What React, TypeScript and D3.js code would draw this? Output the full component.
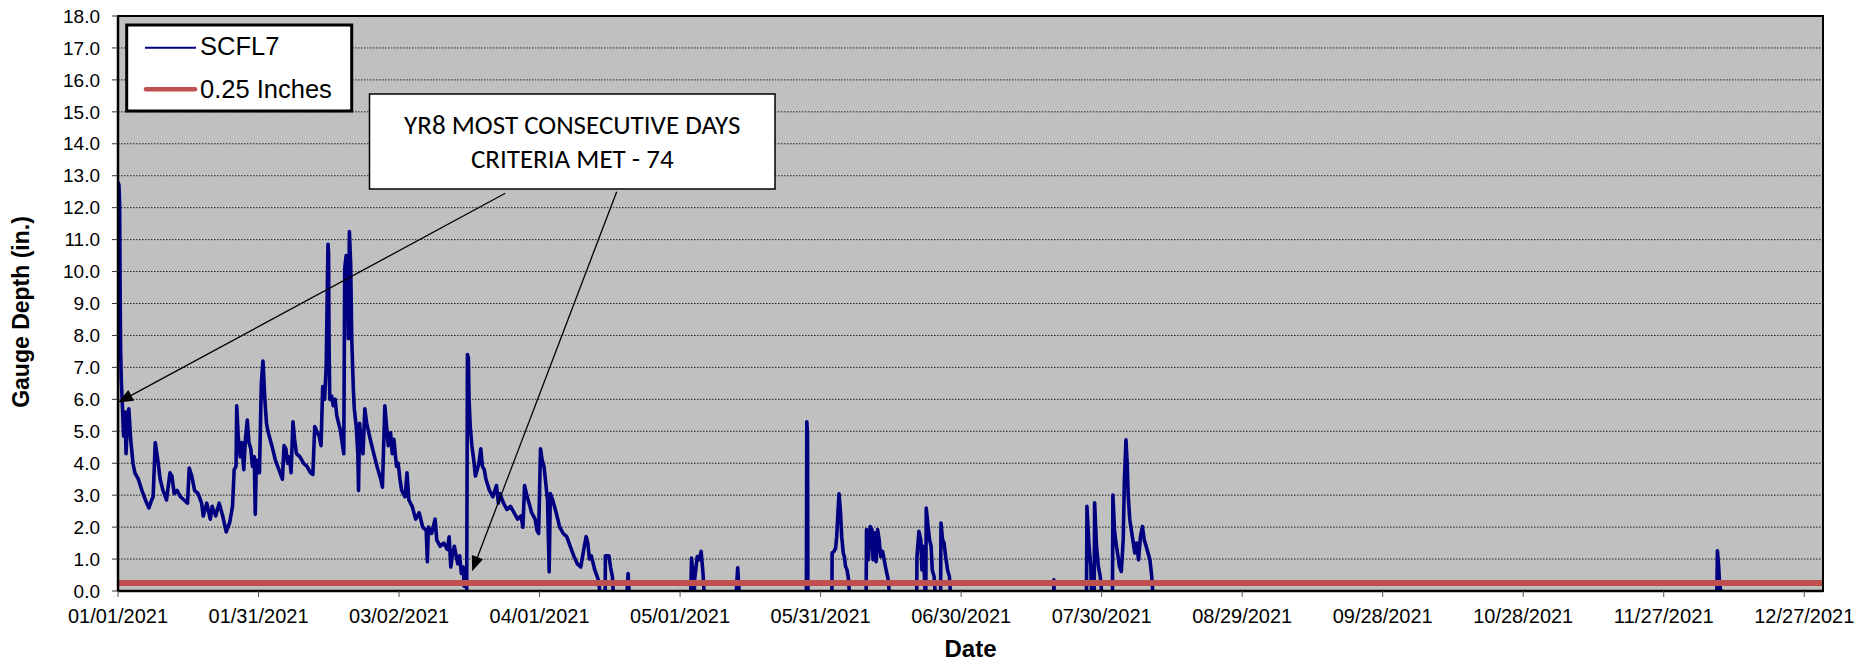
import React from "react";
import * as d3 from "d3";

// ---------------- data ----------------
const xTickLabels = [
  "01/01/2021", "01/31/2021", "03/02/2021", "04/01/2021", "05/01/2021",
  "05/31/2021", "06/30/2021", "07/30/2021", "08/29/2021", "09/28/2021",
  "10/28/2021", "11/27/2021", "12/27/2021",
];
const xDomainLabels = ["01/01/2021", "12/31/2021"];
const yTickValues = [0, 1, 2, 3, 4, 5, 6, 7, 8, 9, 10, 11, 12, 13, 14, 15, 16, 17, 18];
const seriesNames = ["SCFL7", "0.25 Inches"];
const thresholdInches = 0.25;
const calloutLines = ["YR8 MOST CONSECUTIVE DAYS", "CRITERIA MET - 74"];
// arrow targets: [days since 01/01/2021, depth]
const calloutTargets: [number, number][] = [[0, 5.9], [75.6, 0.62]];

// gauge readings: [days since 01/01/2021, depth (in.)]; values below 0 = gauge dry (below axis)
const janReadings: [number, number][] = [
  [0, 12.8], [0.2, 12.7], [0.35, 12.1], [0.45, 9.5], [0.55, 7.6], [0.7, 6.6], [0.97, 5.7], [1.2, 4.85],
  [1.5, 5.6], [1.72, 4.3], [2.1, 5.6], [2.32, 5.7], [2.7, 4.75], [3.2, 4.0], [3.6, 3.7], [4.35, 3.5],
  [5.1, 3.15], [5.85, 2.85], [6.6, 2.6], [7.2, 2.85], [7.5, 2.95], [7.95, 4.65], [8.5, 4.1], [9.0, 3.5],
  [9.6, 3.15], [10.35, 2.85], [11.1, 3.7], [11.5, 3.6], [12.0, 3.05], [12.6, 3.15], [13.35, 2.95],
  [14.1, 2.85], [14.85, 2.75], [15.2, 3.85], [15.75, 3.6], [16.35, 3.15], [17.1, 3.05], [17.85, 2.75],
  [18.2, 2.35], [18.95, 2.75], [19.7, 2.25], [20.1, 2.65], [20.85, 2.35], [21.6, 2.75], [22.35, 2.35],
  [23.1, 1.85], [23.85, 2.15], [24.45, 2.65], [24.8, 3.8], [25.2, 3.9], [25.35, 5.8], [25.7, 4.75],
  [26.1, 4.2], [26.45, 4.65], [26.85, 3.8], [27.2, 4.75], [27.6, 5.35], [27.95, 4.65], [28.35, 4.45],
  [28.7, 3.9], [29.1, 4.2], [29.3, 2.4], [29.55, 4.1], [29.85, 3.7], [30.2, 3.7], [30.6, 6.5],
];
const febReadings: [number, number][] = [
  [30.95, 7.2], [31.35, 6.0], [31.7, 5.25], [32.1, 4.95], [32.85, 4.55], [33.6, 4.1], [34.35, 3.8],
  [35.1, 3.5], [35.45, 4.55], [35.85, 4.45], [36.2, 4.0], [36.6, 4.2], [36.95, 3.7], [37.35, 5.3],
  [37.7, 4.75], [38.1, 4.3], [38.85, 4.2], [39.6, 4.0], [40.35, 3.9], [41.1, 3.7], [41.6, 3.65],
  [42.0, 5.15], [42.6, 4.95], [42.95, 4.85], [43.35, 4.55], [43.7, 6.4], [44.1, 6.0], [44.45, 7.05],
  [44.7, 9.6], [44.83, 10.85], [44.95, 10.6], [45.05, 8.0], [45.2, 6.0], [45.6, 6.1], [45.95, 5.8],
  [46.35, 6.0], [46.7, 5.5], [47.1, 5.25], [47.45, 5.05], [47.85, 4.65], [48.2, 4.3], [48.4, 10.1],
  [48.7, 10.5], [48.97, 10.0], [49.18, 7.9], [49.4, 11.25], [49.68, 10.2], [49.9, 7.9], [50.25, 6.3],
  [50.45, 5.7], [50.85, 5.15], [51.2, 4.3], [51.35, 3.15], [51.57, 5.25], [51.95, 4.65], [52.3, 4.3],
  [52.7, 5.7], [53.1, 5.25], [53.85, 4.75], [54.6, 4.3], [55.3, 3.9], [56.1, 3.5], [56.45, 3.25],
  [56.97, 5.8], [57.4, 5.05], [57.7, 4.55], [58.2, 4.95], [58.55, 4.3], [58.9, 4.75],
];
const marReadings: [number, number][] = [
  [59.45, 3.9], [59.8, 4.0], [60.2, 3.5], [60.55, 3.15], [61.3, 2.95], [61.7, 3.7], [62.1, 2.85],
  [62.8, 2.65], [63.55, 2.25], [64.3, 2.45], [65.05, 2.0], [65.8, 1.9], [66.04, 0.92], [66.27, 2.0],
  [66.95, 1.8], [67.7, 2.25], [68.05, 1.6], [68.8, 1.4], [69.55, 1.5], [70.3, 1.3], [70.7, 1.7],
  [71.05, 0.75], [71.45, 1.2], [71.8, 1.4], [72.55, 0.85], [72.95, 1.1], [73.3, 0.55], [73.7, 0.75],
  [73.9, 0.15], [74.2, 0.35], [74.45, 0.05], [74.6, 7.4], [74.8, 7.3], [74.95, 6.0], [75.2, 5.15],
  [75.55, 4.55], [75.95, 4.1], [76.3, 3.6], [76.7, 3.8], [77.05, 4.0], [77.45, 4.45], [77.8, 3.9],
  [78.2, 3.8], [78.55, 3.5], [79.3, 3.15], [80.05, 2.95], [80.8, 3.3], [81.2, 2.75], [81.55, 3.05],
  [82.3, 2.75], [83.05, 2.55], [83.8, 2.65], [84.55, 2.45], [85.3, 2.25], [86.05, 2.35], [86.45, 2.0],
  [86.8, 3.3], [87.2, 3.05], [87.55, 2.85], [87.95, 2.65], [88.3, 2.45], [89.05, 2.25], [89.45, 1.9],
  [89.8, 1.8],
];
const aprReadings: [number, number][] = [
  [90.2, 4.45], [90.55, 4.1], [90.95, 3.9], [91.3, 3.4], [91.7, 2.85], [92.05, 0.6], [92.3, 3.05],
  [92.8, 2.85], [93.55, 2.45], [94.3, 2.0], [95.05, 1.8], [95.8, 1.7], [96.55, 1.4], [97.3, 1.1],
  [98.05, 0.85], [98.8, 0.75], [99.55, 1.4], [99.95, 1.7], [100.3, 1.5], [100.65, 1.0], [101.05, 1.1],
  [101.8, 0.65], [102.55, 0.35], [103.3, -0.5], [104.0, -0.5], [104.05, 1.1], [104.4, 1.1], [104.8, 1.1],
  [105.15, 0.75], [105.55, 0.45], [105.9, -0.5], [108.5, -0.5], [108.9, 0.55], [109.3, -0.5],
];
const mayJunReadings: [number, number][] = [
  [122.2, -0.5], [122.45, 1.03], [122.85, 0.4], [123.0, -0.5], [123.1, 0.35], [123.67, 1.08],
  [124.08, 0.98], [124.49, 1.24], [124.89, 0.56], [125.3, -0.5],
  [131.8, -0.5], [132.3, 0.73], [132.8, -0.5],
  [146.95, -0.5], [147.05, 5.3], [147.2, 4.9], [147.3, -0.5],
  [152.4, -0.5], [152.46, 1.19], [152.87, 1.24], [153.2, 1.34], [153.44, 1.71], [153.69, 2.44],
  [153.93, 3.04], [154.26, 2.44], [154.5, 1.71], [154.83, 1.19], [155.07, 1.08], [155.32, 0.77],
  [155.64, 0.66], [155.97, 0.35], [156.3, -0.5],
  [159.7, -0.5], [159.8, 1.92], [160.2, 0.98], [160.6, 2.02], [160.95, 1.92], [161.2, 0.98],
  [161.5, 1.82], [161.84, 0.92], [162.17, 1.92], [162.5, 1.6], [162.82, 1.08], [163.23, 1.24],
  [163.64, 0.92], [164.05, 0.61], [164.45, 0.35], [164.86, -0.5],
  [170.5, -0.5], [170.57, 1.08], [170.98, 1.87], [171.39, 1.6], [171.63, 0.66], [171.88, 1.4],
  [172.2, 0.35], [172.45, -0.5], [172.55, 2.6], [172.94, 2.02], [173.26, 1.6], [173.59, 1.4],
  [173.83, 0.66], [174.24, 0.45], [174.65, -0.5], [175.6, -0.5], [175.7, 2.13], [176.04, 1.6],
  [176.36, 1.5], [176.69, 1.08], [177.1, 0.66], [177.5, 0.45], [177.9, -0.5],
];
const julAugReadings: [number, number][] = [
  [199.7, -0.5], [199.8, 0.35], [199.9, -0.5],
  [206.75, -0.5], [206.86, 2.65], [207.27, 1.5], [207.68, 0.77], [207.93, -0.5], [208.4, -0.5],
  [208.5, 2.76], [208.9, 1.4], [209.3, 0.77], [209.7, 0.45], [210.3, -0.5],
  [212.3, -0.5], [212.4, 3.0], [212.74, 1.92], [213.06, 1.5], [213.39, 1.19], [213.8, 0.77],
  [214.2, 0.61], [214.6, 1.6], [214.86, 3.5], [215.19, 4.73], [215.44, 4.02], [215.68, 2.97],
  [216.0, 2.24], [216.33, 1.92], [216.66, 1.6], [217.07, 1.19], [217.47, 1.5], [217.88, 0.98],
  [218.29, 1.71], [218.7, 2.02], [219.1, 1.6], [219.5, 1.4], [219.9, 1.19], [220.3, 0.98],
  [220.7, 0.45], [221.1, -0.5],
];
const decReadings: [number, number][] = [
  [341.3, -0.5], [341.45, 1.26], [341.73, 0.77], [341.87, 0.35], [342.1, 0.05], [342.6, -0.1],
  [343.4, -0.05], [343.6, -0.5], [364, -0.5],
];

// ---------------- layout ----------------
const W = 1872;
const H = 663;
const plot = { left: 118, right: 1823, top: 16, bottom: 591 };
const axisFont = "'Liberation Sans', Arial, Helvetica, sans-serif";
const calloutFont = "Carlito, Calibri, Lato, 'Open Sans', sans-serif";
const navy = "#000080";
const red = "#C0504D";

const parse = d3.utcParse("%m/%d/%Y");
const dayMs = 864e5;

export default function App() {
  const start = parse(xDomainLabels[0]) as Date;
  const end = parse(xDomainLabels[1]) as Date;
  const x = d3.scaleUtc().domain([start, end]).range([plot.left, plot.right]);
  const y = d3.scaleLinear().domain([0, 18]).range([plot.bottom, plot.top]);
  const toDate = (d: number) => new Date(start.getTime() + d * dayMs);

  const readings = [
    ...janReadings, ...febReadings, ...marReadings, ...aprReadings,
    ...mayJunReadings, ...julAugReadings, ...decReadings,
  ];
  const line = d3
    .line<[number, number]>()
    .x((d) => x(toDate(d[0])))
    .y((d) => y(d[1]));

  const xTicks = xTickLabels.map((l) => ({ label: l, px: x(parse(l) as Date) }));

  // callout box
  const box = { x: 369.5, y: 94, w: 405.5, h: 95 };
  const cx = box.x + box.w / 2;
  const arrowStarts = [
    [505.3, 193.3],
    [616.7, 191.7],
  ];
  const arrows = calloutTargets.map((t, i) => {
    const tx = x(toDate(t[0]));
    const ty = y(t[1]);
    const [sx, sy] = arrowStarts[i];
    const ang = Math.atan2(ty - sy, tx - sx);
    const L = 15;
    const hw = 6;
    const bx = tx - L * Math.cos(ang);
    const by = ty - L * Math.sin(ang);
    const p1 = [bx + hw * Math.sin(ang), by - hw * Math.cos(ang)];
    const p2 = [bx - hw * Math.sin(ang), by + hw * Math.cos(ang)];
    return { sx, sy, bx, by, tx, ty, head: `${tx},${ty} ${p1[0]},${p1[1]} ${p2[0]},${p2[1]}` };
  });

  return (
    <div style={{ position: "absolute", left: 0, top: 0, width: W, height: H, background: "#fff" }}>
      <svg width={W} height={H} style={{ display: "block" }}>
        <defs>
          <clipPath id="plotClip">
            <rect x={plot.left} y={plot.top} width={plot.right - plot.left} height={plot.bottom - plot.top} />
          </clipPath>
        </defs>
        <rect x={plot.left} y={plot.top} width={plot.right - plot.left} height={plot.bottom - plot.top} fill="#C0C0C0" />
        {/* gridlines */}
        {yTickValues
          .filter((v) => v > 0 && v < 18)
          .map((v) => (
            <line key={"g" + v} x1={plot.left} x2={plot.right} y1={y(v)} y2={y(v)} stroke="#202020" strokeWidth={1} strokeDasharray="1.5 1.5" />
          ))}
        {/* gauge series */}
        <path d={line(readings) || ""} fill="none" stroke={navy} strokeWidth={3.6} strokeLinejoin="round" clipPath="url(#plotClip)" />
        {/* threshold */}
        <line x1={plot.left} x2={plot.right} y1={y(thresholdInches)} y2={y(thresholdInches)} stroke={red} strokeWidth={5.8} />
        {/* plot border */}
        <rect x={plot.left} y={plot.top} width={plot.right - plot.left} height={plot.bottom - plot.top} fill="none" stroke="#000" strokeWidth={2} />
        <line x1={plot.left} x2={plot.right} y1={plot.bottom} y2={plot.bottom} stroke="#000" strokeWidth={2.5} />
        <line x1={plot.left} x2={plot.left} y1={plot.top} y2={plot.bottom} stroke="#000" strokeWidth={2.5} />
        {/* y ticks & labels */}
        {yTickValues.map((v) => (
          <g key={"y" + v}>
            <line x1={plot.left - 6} x2={plot.left} y1={y(v)} y2={y(v)} stroke="#333" strokeWidth={1} />
            <text x={100} y={y(v) + 6.7} textAnchor="end" fontFamily={axisFont} fontSize={19} fill="#000">
              {d3.format(".1f")(v)}
            </text>
          </g>
        ))}
        {/* x ticks & labels */}
        {xTicks.map((t) => (
          <g key={t.label}>
            <line x1={t.px} x2={t.px} y1={plot.bottom} y2={plot.bottom + 6} stroke="#555" strokeWidth={1} />
            <text x={t.px} y={623.3} textAnchor="middle" fontFamily={axisFont} fontSize={21} fill="#000" textLength={100} lengthAdjust="spacingAndGlyphs">
              {t.label}
            </text>
          </g>
        ))}
        {/* axis titles */}
        <text x={(plot.left + plot.right) / 2} y={657} textAnchor="middle" fontFamily={axisFont} fontSize={24} fontWeight="bold">
          Date
        </text>
        <text transform={`translate(29,312) rotate(-90)`} textAnchor="middle" fontFamily={axisFont} fontSize={23} fontWeight="bold">
          Gauge Depth (in.)
        </text>
        {/* legend */}
        <rect x={126.7} y={25} width={225} height={86} fill="#fff" stroke="#000" strokeWidth={3} />
        <line x1={145} x2={196} y1={47.7} y2={47.7} stroke={navy} strokeWidth={2} />
        <text x={200} y={55} fontFamily={axisFont} fontSize={25.5}>
          {seriesNames[0]}
        </text>
        <line x1={146} x2={195} y1={89.3} y2={89.3} stroke={red} strokeWidth={4.5} strokeLinecap="round" />
        <text x={200} y={97.7} fontFamily={axisFont} fontSize={25.5}>
          {seriesNames[1]}
        </text>
        {/* callout */}
        <rect x={box.x} y={box.y} width={box.w} height={box.h} fill="#fff" stroke="#000" strokeWidth={1.5} />
        <text x={cx} y={134.3} textAnchor="middle" fontFamily={calloutFont} fontSize={27} fill="#000">
          {calloutLines[0]}
        </text>
        <text x={cx} y={168.3} textAnchor="middle" fontFamily={calloutFont} fontSize={27} fill="#000">
          {calloutLines[1]}
        </text>
        {arrows.map((a, i) => (
          <g key={"a" + i}>
            <line x1={a.sx} y1={a.sy} x2={a.bx} y2={a.by} stroke="#000" strokeWidth={1.3} />
            <polygon points={a.head} fill="#000" />
          </g>
        ))}
      </svg>
    </div>
  );
}
